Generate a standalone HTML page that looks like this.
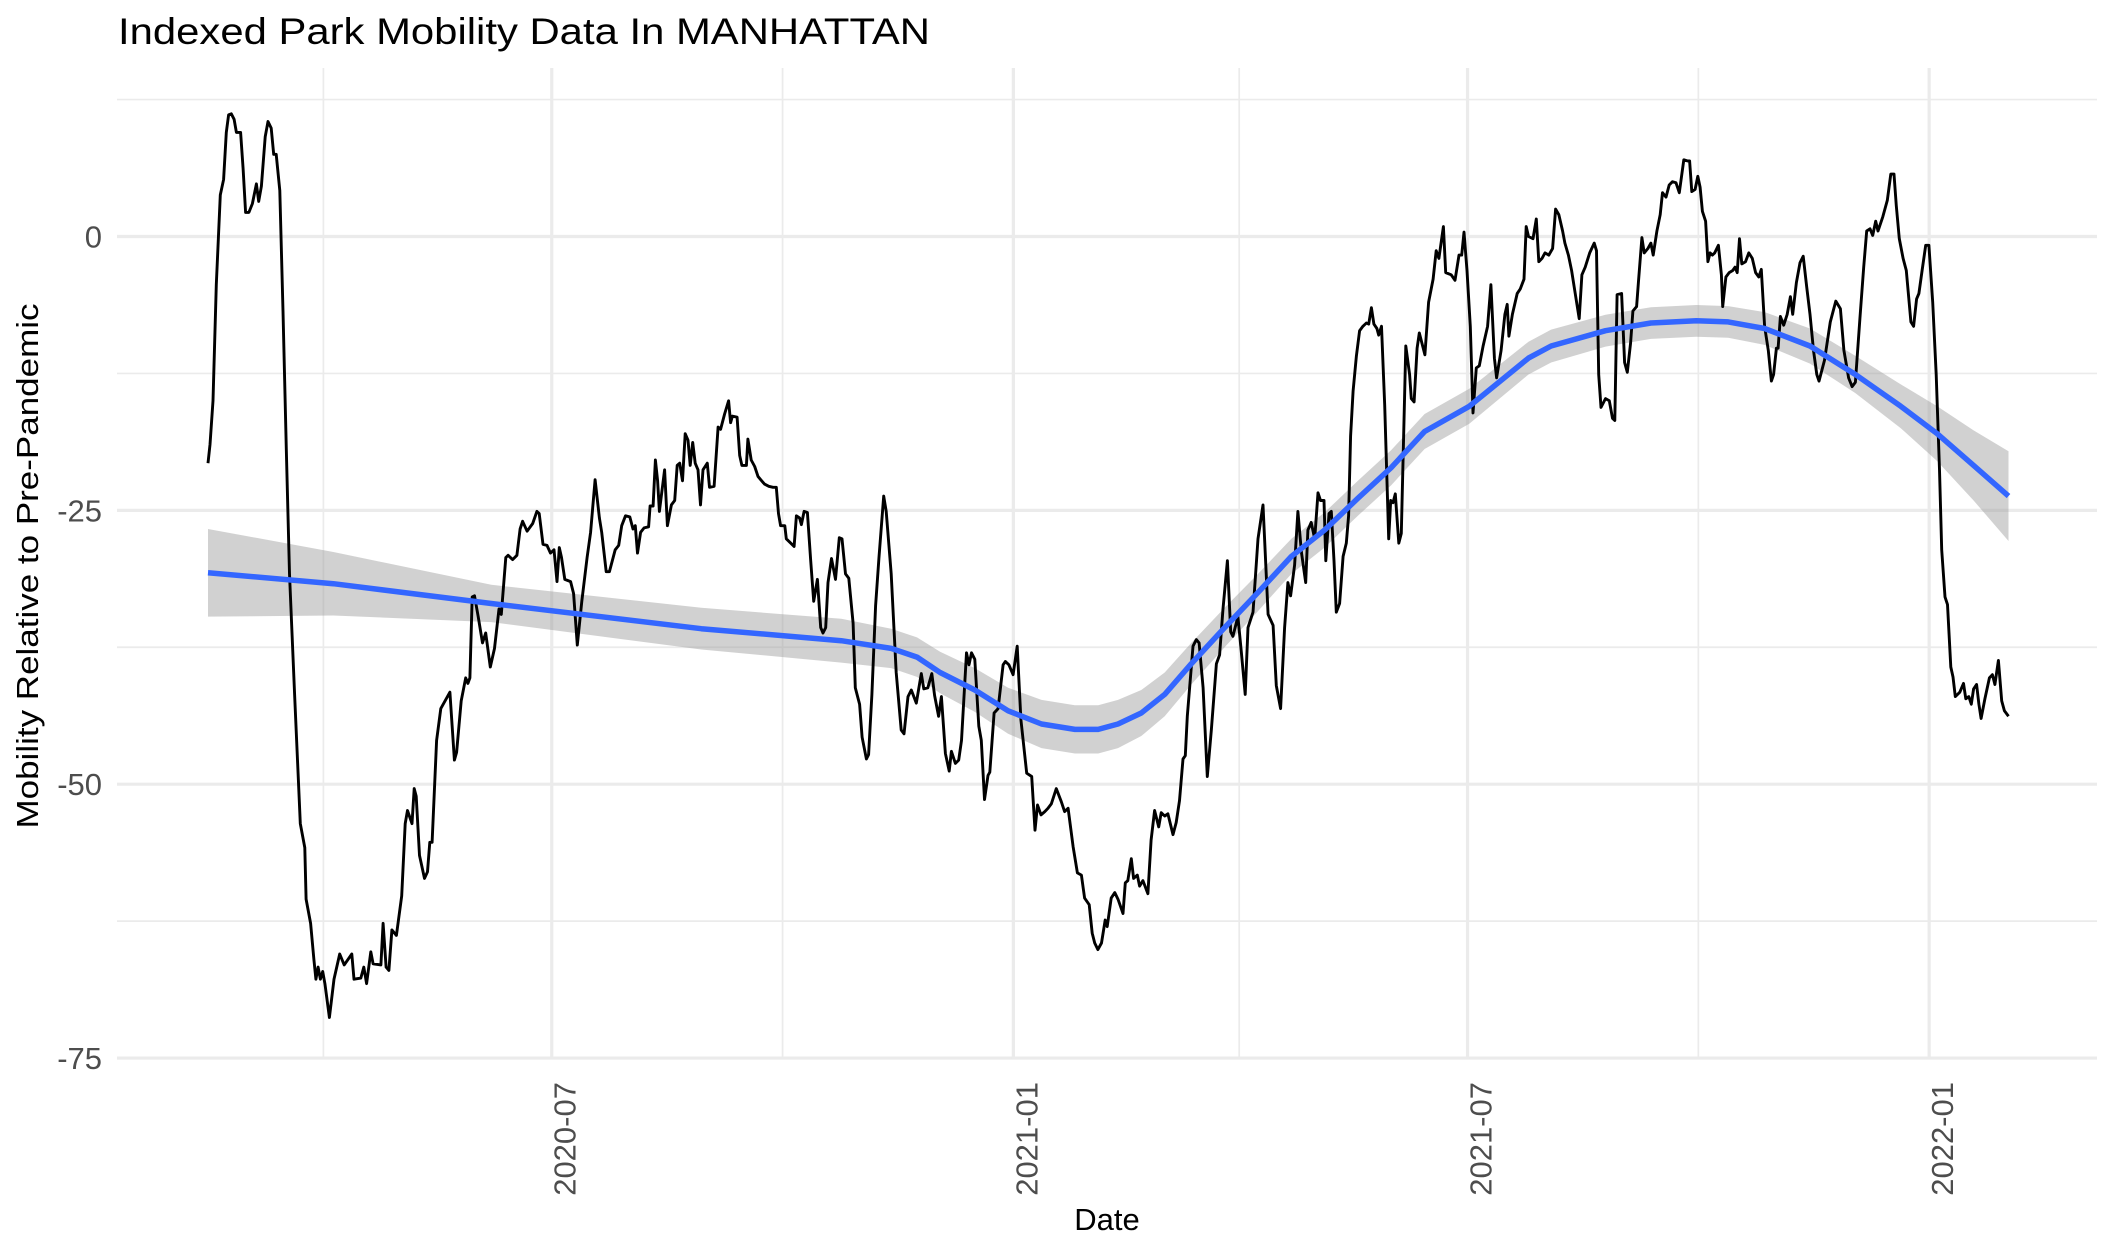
<!DOCTYPE html>
<html><head><meta charset="utf-8"><style>
html,body{margin:0;padding:0;background:#fff;}
svg{display:block;font-family:"Liberation Sans",Arial,sans-serif;}
</style></head><body>
<svg id="chart" width="2112" height="1248" viewBox="0 0 2112 1248">
<g id="grid"></g>
<g id="ribbon"></g>
<g id="series"></g>
<g id="smooth"></g>
<g id="axes"></g>
<text x="118" y="44" font-size="37" fill="#000" textLength="812" lengthAdjust="spacingAndGlyphs">Indexed Park Mobility Data In MANHATTAN</text>
<text transform="translate(38,566) rotate(-90)" text-anchor="middle" font-size="31" fill="#000" textLength="525" lengthAdjust="spacingAndGlyphs">Mobility Relative to Pre-Pandemic</text>
<text x="1107" y="1230" text-anchor="middle" font-size="31" fill="#000">Date</text>
</svg>
<script>
// days since 2020-02-15
const obsDays = [0,0.8,2,3.3,4.9,6.2,7.3,8.2,9.3,10.4,11.3,13,14,15,16.3,17.7,19.3,20.2,21.3,22.8,23.9,25.2,26.2,27.2,28.6,29.9,31.2,32.5,34.5,
36.8,38.6,39.1,40.9,42.2,43,43.9,44.8,45.7,46.6,48.4,50.2,52.5,54.3,57.3,58.2,60.9,62.1,63.2,64.9,65.8,68.9,69.8,71,72.1,73.3,75.1,77.2,78.6,79.5,81.3,82.2,83,84.3,86.3,87.5,88.4,89.3,91.1,92.8,96.4,98.2,99.1,100.9,102.7,103.6,104.4,105.3,106.2,107.7,109.4,110.7,112.5,114.2,116,116.9,118.7,119.6,121.4,123.1,124.4,125.4,127.2,129.4,131.1,132,133.5,135.1,136.5,137.9,139.1,140,140.9,142.2,144.5,145.7,147.2,149,151.1,152.5,154.3,156,156.9,158.7,160,162.3,163.7,164.9,166.4,168.1,169.4,170.3,171.2,172.4,173.8,175.6,176.2,177.4,178.3,
179.2,179.9,182,183.1,184.7,186,187,188,189.1,190.2,191.3,192.2,193.2,194.2,195.3,196.3,197.3,199,199.9,201.7,203.3,204.3,205.9,207.5,208.3,209,210.9,211.9,212.8,214.6,215.2,216.5,217.9,219.2,220.3,221.8,223.5,225.2,226.5,227.4,228.2,229.9,230.5,232.3,233.6,234.5,235.8,236.5,237.6,238.9,240.2,241.4,242.9,244.2,245.1,246.2,247.1,248.5,250.1,251.6,252.7,254.1,255.4,
257.1,258,259.7,260.7,262.4,263.3,264.6,266.1,267.4,269.3,270.3,272.3,274.3,
276.3,277.4,279,280.3,282.3,284.3,285.3,286.9,288.5,289.6,291.2,292.3,293.9,295.4,296.3,297.9,299.2,300.3,302.3,303.3,304.3,305.6,307.2,308.2,309.5,310.9,311.6,313.3,314.9,316.9,317.8,319.2,320.9,322.5,324,326.3,328.3,329.6,330.6,332,333.5,334.8,336.1,338.1,340.1,341.4,342.8,344.8,346.5,348.1,349.4,351.2,352.4,353.4,354.7,356.1,357.6,358.4,360,361.4,362.7,364.7,365.6,366.6,368,368.9,370.4,371.3,372.6,374.6,375.9,377.3,378.9,379.9,381.3,382.6,384.6,385.9,387.2,388.6,389.5,390.3,392.6,
393.9,395,396.6,398.3,399.9,401.9,403.2,404.5,406.3,407.6,408.5,410.5,411.8,413.4,414.5,416.5,418.5,420.5,422.5,424.5,425.8,427.5,429.1,430.4,431.5,433.1,434.4,435.8,437.5,438.4,439.7,441.1,442.4,443.4,444.8,445.5,446.8,447.7,448.8,449.7,451,452.4,453.7,454.6,455.4,456.4,457.7,459,460.3,461.7,462.6,463.7,464.7,465.9,466.6,467.7,469,470.6,471.4,472.3,473.2,474.6,
475.6,477.4,478.9,479.6,480.7,481.9,482.8,485,486.5,488.3,489.5,490.6,492.4,493.3,495.5,497,498.6,499.7,500.6,501.8,503.1,504.2,505.5,506.7,508.2,510,511.3,512.7,513.6,515.4,516.9,517.8,518.5,519.9,521.8,523,524.5,525.4,526.3,528.1,529.4,530.4,531.7,532.9,534.4,535.9,537.1,538.4,539.9,540.8,542.2,543.5,544.7,546.5,547.6,548.9,550.7,552.5,553.4,554.3,555.2,557,558.5,559.8,560.7,561.6,563.4,564.6,565.7,567,567.9,569.4,570.1,571.5,572.4,573.9,575.1,576,577.5,578.8,579.7,581.1,582.4,583.7,585.1,586.4,588.2,589.6,590.5,591.4,592.7,593.8,594.7,595.6,596.9,597.8,598.7,599.6,600.5,602,603.2,603.7,605,606.3,607.7,608.6,609.5,610.4,611.3,612.8,614.1,615.5,616.8,618.1,619.1,620.4,621.9,623.1,624,625.1,625.8,626.7,628,629.4,630.7,631.6,633.1,634.5,635.8,637.2,638.5,639.9,641.2,642.1,644.3,646.6,648.8,650.6,652,653.9,655.3,656.6,658.4,659.9,661.1,662.4,663.5,664.7,665.6,667.5,669.3,670.7,672,672.9,674.1,675.6,676.9,678.7,679.8,681,681.9,683.2,684.6,685.9,687.4,688.8,690.1,691,692.3,693.3,694.6,695.5,696.4,698.2,699.7,700.6,701.8,702.8,703.7,704.9,705.8,706.7,708.2,710,711.2,712.2,713.6,714.9,716,717.6];
const obsVals = [-20.7,-19,-15,-4.4,3.8,5.2,9.5,11.1,11.2,10.7,9.5,9.5,6.2,2.2,2.2,3,4.8,3.2,4.6,9.1,10.5,9.9,7.5,7.5,4.2,-6.8,-19.4,-30.8,-41.8,
-53.6,-55.8,-60.5,-62.7,-66,-67.8,-66.7,-67.8,-67.1,-68.2,-71.3,-67.8,-65.5,-66.5,-65.5,-67.8,-67.7,-66.7,-68.2,-65.3,-66.4,-66.5,-62.7,-66.7,-67,-63.3,-63.8,-60.2,-53.6,-52.4,-53.6,-50.4,-51.1,-56.5,-58.6,-58,-55.3,-55.3,-46,-43.1,-41.6,-47.8,-47.1,-42.4,-40.3,-40.8,-40.3,-32.9,-32.8,-34.7,-37.1,-36.2,-39.3,-37.6,-34,-34.5,-29.3,-29.1,-29.5,-29.1,-26.7,-26,-26.9,-26.2,-25.1,-25.3,-28.1,-28.2,-28.9,-28.6,-31.5,-28.4,-29.3,-31.3,-31.5,-32.6,-37.3,-33.3,-29.3,-27,-22.2,-25.7,-27,-30.6,-30.6,-28.6,-28.2,-26.4,-25.5,-25.6,-26.7,-26.4,-28.9,-27,-26.6,-26.5,-24.6,-24.6,-20.4,
-22.3,-25.1,-21.3,-26.4,-24.5,-24.1,-20.9,-20.7,-22.3,-18,-18.6,-20.9,-18.8,-20.7,-21.3,-24.5,-21.3,-20.7,-22.9,-22.8,-17.4,-17.6,-16.2,-15,-17,-16.4,-16.5,-20,-20.9,-20.9,-18.5,-20.4,-21,-21.9,-22.2,-22.6,-22.8,-22.9,-22.9,-25.3,-26.4,-26.4,-27.6,-28,-28.3,-25.5,-25.7,-26.3,-25.1,-25.2,-29.6,-33.3,-31.3,-35.7,-36.2,-35.7,-31.6,-29.4,-31.3,-27.5,-27.6,-30.8,-31.2,
-35.3,-41.2,-42.7,-45.7,-47.7,-47.3,-41.8,-33.7,-29.4,-23.7,-25.1,-30.8,-39.8,
-45.05,-45.4,-42,-41.4,-42.6,-39.9,-41.3,-41.2,-39.9,-41.9,-43.8,-42,-47.2,-48.8,-47,-48.1,-47.8,-46,-38,-39.1,-38,-38.6,-44.7,-46,-51.4,-49.2,-48.9,-43.5,-43.1,-39.1,-38.8,-39.1,-40,-37.4,-44.1,-49,-49.3,-54.2,-51.9,-52.8,-52.5,-52.2,-51.8,-50.4,-51.6,-52.5,-52.2,-55.7,-58.1,-58.3,-60.4,-61,-63.6,-64.5,-65.1,-64.5,-62.4,-63,-60.4,-59.9,-60.5,-61.8,-59,-58.8,-56.8,-58.6,-58.3,-59.3,-58.8,-60,-55.1,-52.4,-53.9,-52.6,-52.9,-52.7,-54.6,-53.5,-51.5,-47.7,-47.4,-43.8,-37.4,
-36.8,-37.1,-41.2,-49.3,-45.1,-39,-38.2,-34.1,-29.6,-36.1,-36.5,-34.7,-37.8,-41.8,-35.7,-34.3,-27.6,-24.5,-34.5,-35.5,-41,-43.1,-35.7,-31.6,-32.8,-30,-25.1,-28.8,-31.6,-26.8,-26.1,-27.6,-23.4,-24.1,-24.1,-29.6,-25.3,-25.1,-29.6,-34.3,-33.5,-29.2,-28,-25.5,-18.2,-14.1,-10.9,-8.6,-8.2,-7.9,-8,-6.5,-8,-8.4,-9,-8.2,-15.4,-27.6,-24.1,-24.3,-23.5,-28,
-27.1,-10,-12.6,-14.8,-15.1,-10.2,-8.8,-10.8,-6,-3.9,-1.3,-2,0.9,-3.3,-3.5,-4,-1.7,-1.7,0.4,-3.1,-8.2,-16.1,-12,-11.8,-10,-8.2,-4.4,-11.1,-12.9,-10.4,-7.1,-6.2,-9.1,-7.1,-5.2,-4.8,-3.9,0.9,0,-0.2,1.6,-2.3,-2,-1.5,-1.7,-1.1,2.5,2,0.5,-0.6,-1.7,-3.1,-4.9,-7.5,-3.5,-2.8,-1.5,-0.6,-1.3,-12.6,-15.6,-14.8,-15,-16.6,-16.8,-5.3,-5.2,-11.5,-12.4,-9.7,-6.8,-6.4,-4.2,-0.1,-1.5,-1.1,-0.6,-1.7,0.5,2,4,3.6,4.7,5,4.9,4,7,6.9,6.9,4.1,4.3,5.5,4.5,2.3,1.4,-2.3,-1.5,-1.7,-1.5,-0.8,-3.5,-6.4,-3.7,-3.3,-3.1,-2.8,-3.3,-0.2,-2.5,-2.3,-1.5,-2,-3.3,-3.7,-3,-8.2,-10.4,-13.2,-12.6,-10.2,-10.2,-7.3,-8.1,-7.1,-5.5,-7.1,-4.2,-2.4,-1.8,-4.6,-7.1,-10.4,-12.6,-13.2,-11.3,-7.8,-5.9,-6.6,-10.4,-12.9,-13.7,-13.3,-7.5,-2.8,0.5,0.7,0.1,1.4,0.5,1.8,3.3,5.7,5.7,2.8,-0.2,-2,-3.1,-7.8,-8.2,-5.7,-5.2,-3.1,-0.8,-0.8,-6,-12.6,-21.3,-28.6,-32.9,-33.6,-39.3,-40.2,-42,-41.6,-40.8,-42.2,-42,-42.7,-41.3,-40.9,-42.7,-44,-42.2,-40.3,-40,-40.9,-38.7,-42.4,-43.3,-43.8];

const smoothDays = [0,50,112.9,196.6,252.4,272.3,282.6,291.8,305.6,318.9,332.2,345.5,354.8,362.7,372,381.3,391.9,405.2,418.5,431.8,445,458.3,471.6,484.9,502.7,526.3,535.3,557,575.1,593.2,605.9,620.4,638.5,656.6,674.7,689.2,703.7,717.6];
const smoothVals = [-30.7,-31.7,-33.5,-35.8,-36.9,-37.6,-38.4,-39.8,-41.4,-43.3,-44.5,-45,-45,-44.5,-43.5,-41.8,-39,-35.7,-32.5,-29.2,-26.8,-23.9,-21.1,-17.8,-15.5,-11.1,-10,-8.6,-7.9,-7.7,-7.8,-8.4,-10,-12.6,-15.5,-18,-20.9,-23.7];
const smoothSe = [4.0,2.9,1.7,1.9,2.0,1.8,1.8,1.9,2.0,2.1,2.2,2.2,2.2,2.2,2.1,2.0,1.9,1.8,1.7,1.6,1.6,1.6,1.6,1.6,1.6,1.5,1.5,1.45,1.45,1.45,1.45,1.5,1.6,1.7,2.0,2.5,3.2,4.1];

const yTicks = [0,-25,-50,-75];
const yTickLabels = ["0","-25","-50","-75"];
const yMinor = [12.5,-12.5,-37.5,-62.5];
const xTicks = [137,321,502,686];
const xTickLabels = ["2020-07","2021-01","2021-07","2022-01"];
const xMinor = [46,229,411,594];

const NS = "http://www.w3.org/2000/svg";
const X0 = 208, PXD = 2.509, Y0 = 236.5, PXV = 10.954;
function xs(d){ return X0 + d*PXD; }
function ys(v){ return Y0 - v*PXV; }
function mk(tag, attrs, parent){
  const e = document.createElementNS(NS, tag);
  for (const k in attrs) e.setAttribute(k, attrs[k]);
  parent.appendChild(e);
  return e;
}
const grid = document.getElementById('grid');
const axes = document.getElementById('axes');
const PL = 117, PR = 2097, PT = 68, PB = 1059;
yMinor.forEach(v => {
  const l = mk('line', {x1:PL, x2:PR, y1:ys(v), y2:ys(v), stroke:'#EBEBEB', 'stroke-width':1.7}, grid);
  
  
});
xMinor.forEach(d => {
  const l = mk('line', {x1:xs(d), x2:xs(d), y1:PT, y2:PB, stroke:'#EBEBEB', 'stroke-width':1.7}, grid);
  
  
});
yTicks.forEach((v, i) => {
  const l = mk('line', {x1:PL, x2:PR, y1:ys(v), y2:ys(v), stroke:'#EBEBEB', 'stroke-width':3.2}, grid);
  
  
  const t = mk('text', {x:102, y:ys(v)+11, 'text-anchor':'end', 'font-size':31, fill:'#4D4D4D'}, axes);
  t.textContent = yTickLabels[i];
  
  
});
xTicks.forEach((d, i) => {
  const l = mk('line', {x1:xs(d), x2:xs(d), y1:PT, y2:PB, stroke:'#EBEBEB', 'stroke-width':3.2}, grid);
  
  
  const x = xs(d) + 24, y = 1082;
  const t = mk('text', {x:x, y:y, 'text-anchor':'end', 'font-size':31, fill:'#4D4D4D', transform:'rotate(-90 '+x+' '+y+')'}, axes);
  t.textContent = xTickLabels[i];
  
  
});
// ribbon
let up = [], lo = [];
smoothDays.forEach((d, i) => {
  up.push(xs(d).toFixed(1)+','+ys(smoothVals[i]+smoothSe[i]).toFixed(1));
  lo.unshift(xs(d).toFixed(1)+','+ys(smoothVals[i]-smoothSe[i]).toFixed(1));
});
const rib = mk('polygon', {points: up.concat(lo).join(' '), fill:'#999999', 'fill-opacity':0.45}, document.getElementById('ribbon'));


// series
const sp = obsDays.map((d, i) => xs(d).toFixed(1)+','+ys(obsVals[i]).toFixed(1)).join(' ');
const ser = mk('polyline', {points: sp, fill:'none', stroke:'#000', 'stroke-width':2.9, 'stroke-linejoin':'round'}, document.getElementById('series'));


// smooth
const mp = smoothDays.map((d, i) => xs(d).toFixed(1)+','+ys(smoothVals[i]).toFixed(1)).join(' ');
const sm = mk('polyline', {points: mp, fill:'none', stroke:'#3366FF', 'stroke-width':5.5, 'stroke-linejoin':'round'}, document.getElementById('smooth'));


</script>
</body></html>
